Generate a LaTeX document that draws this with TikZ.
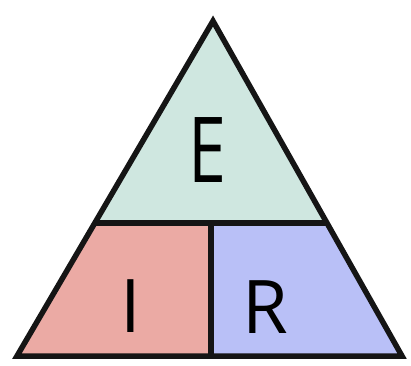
\documentclass[tikz,border=0pt]{standalone}
\usepackage{fontspec}
\setmainfont{Open Sans}
\usetikzlibrary{calc}
\definecolor{topfill}{HTML}{CFE7E0}
\definecolor{leftfill}{HTML}{EBAAA4}
\definecolor{rightfill}{HTML}{B9C0F7}
\definecolor{edge}{HTML}{151515}
\begin{document}
\begin{tikzpicture}[x=1pt,y=1pt,
  region/.style={draw=edge,line width=5.5pt,line join=miter},
  letter/.style={font=\fontsize{74}{74}\selectfont,text=black,inner sep=0pt}]
\useasboundingbox (0,0) rectangle (411,365);
\coordinate (apex) at (213,344);
\coordinate (bl) at (17,9);
\coordinate (br) at (402,9);
\coordinate (ml) at ($(bl)!0.3964!(apex)$);
\coordinate (mr) at ($(br)!0.3964!(apex)$);
\coordinate (mt) at (211,142);
\coordinate (mb) at (211,9);
\fill[topfill] (apex) -- (mr) -- (ml) -- cycle;
\fill[leftfill] (ml) -- (mt) -- (mb) -- (bl) -- cycle;
\fill[rightfill] (mt) -- (mr) -- (br) -- (mb) -- cycle;
\draw[region] (ml) -- (mr);
\draw[region] (mt) -- (mb);
\draw[region] (apex) -- (br) -- (bl) -- cycle;
\node[letter,font=\fontsize{91}{91}\selectfont,xscale=0.75] (E) at (207.5,214.5) {E};
\node[letter] (I) at (131,59) {I};
\node[letter] (R) at (265,58) {R};
\end{tikzpicture}
\end{document}
